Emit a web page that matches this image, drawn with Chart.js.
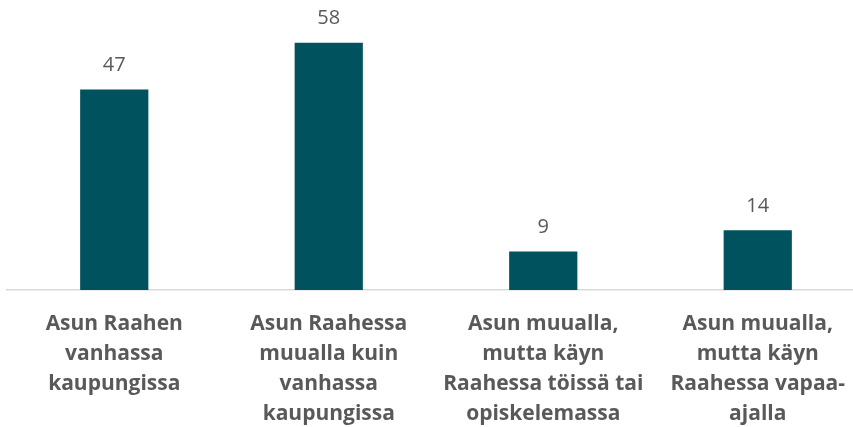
<!DOCTYPE html>
<html>
<head>
<meta charset="utf-8">
<script src="https://cdn.jsdelivr.net/npm/chart.js@4.4.0/dist/chart.umd.min.js"></script>
<style>
  html, body { margin: 0; padding: 0; background: #fff; overflow: hidden; }
  #wrap { width: 865px; height: 427px; position: relative; }
</style>
</head>
<body>
<div id="wrap"><canvas id="chart"></canvas></div>
<script>
const categories = [
    ['Asun Raahen', 'vanhassa', 'kaupungissa'],
    ['Asun Raahessa', 'muualla kuin', 'vanhassa', 'kaupungissa'],
    ['Asun muualla,', 'mutta käyn', 'Raahessa töissä tai', 'opiskelemassa'],
    ['Asun muualla,', 'mutta käyn', 'Raahessa vapaa-', 'ajalla']
];
const values = [47, 58, 9, 14];

const barColor = '#00535E';
const textColor = '#595959';
const fontFamily = '"Open Sans", sans-serif';

// draws the numbers above each bar
const valueLabels = {
    id: 'valueLabels',
    afterDatasetsDraw(chart) {
        const ctx = chart.ctx;
        const meta = chart.getDatasetMeta(0);
        ctx.save();
        ctx.font = '20px ' + fontFamily;
        ctx.fillStyle = textColor;
        ctx.textAlign = 'center';
        ctx.textBaseline = 'middle';
        meta.data.forEach((bar, i) => {
            ctx.fillText(values[i], bar.x, bar.y - 24);
        });
        ctx.restore();
    }
};

new Chart(document.getElementById('chart'), {
    type: 'bar',
    data: {
        labels: categories,
        datasets: [{
            data: values,
            backgroundColor: barColor,
            barPercentage: 0.318,
            categoryPercentage: 1
        }]
    },
    options: {
        responsive: true,
        maintainAspectRatio: false,
        animation: false,
        layout: { padding: { left: 7, right: 0, top: 0, bottom: 0 } },
        plugins: {
            legend: { display: false },
            tooltip: { enabled: false }
        },
        scales: {
            x: {
                grid: { display: false },
                border: { display: true, color: '#d9d9d9', width: 1.5 },
                ticks: {
                    color: textColor,
                    font: { family: fontFamily, size: 21, weight: 'bold', lineHeight: 1.43 },
                    padding: 11,
                    maxRotation: 0,
                    autoSkip: false
                },
                afterFit(scale) { scale.height = 137; }
            },
            y: {
                display: false,
                min: 0,
                max: 68
            }
        }
    },
    plugins: [valueLabels]
});
</script>
</body>
</html>
